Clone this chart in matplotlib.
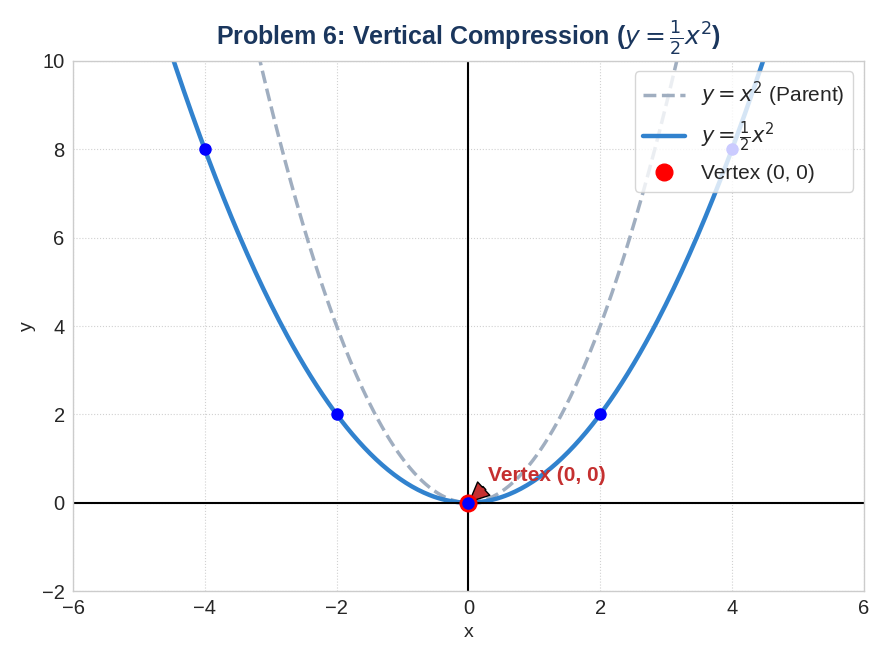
import matplotlib.pyplot as plt
import numpy as np

plt.style.use('seaborn-v0_8-whitegrid')
plt.rcParams['font.family'] = ['Liberation Sans', 'DejaVu Sans']

# data
sample_x = [-4, -2, 0, 2, 4]
sample_y = [8, 2, 0, 2, 8]
vertex = (0, 0)

x = np.linspace(-6, 6, 400)
y_parent = x ** 2
y_comp = 0.5 * x ** 2

fig, ax = plt.subplots(figsize=(8.85, 6.6), dpi=100)
fig.subplots_adjust(left=0.0825, right=0.976, top=0.9076, bottom=0.1045)

ax.plot(x, y_parent, '--', color='#a0aec0', linewidth=2.5, label=r'$y = x^2$ (Parent)')
ax.plot(x, y_comp, color='#3182ce', linewidth=3.2, label=r'$y = \frac{1}{2}x^2$')
ax.plot(vertex[0], vertex[1], 'o', color='red', markersize=12, label='Vertex (0, 0)', zorder=4)
ax.plot(sample_x, sample_y, 'o', color='blue', markersize=8, zorder=4.5)

ax.axhline(0, color='black', linewidth=1.5)
ax.axvline(0, color='black', linewidth=1.5)

ax.annotate('Vertex (0, 0)', xy=vertex, xytext=(0.3, 0.5),
            fontsize=15, fontweight='bold', color='#c53030',
            arrowprops=dict(facecolor='#c53030', edgecolor='black', shrink=0.05,
                            width=3, headwidth=13, headlength=14))

ax.set_xlim(-6, 6)
ax.set_ylim(-2, 10)
ax.set_xlabel('x', fontsize=14)
ax.set_ylabel('y', fontsize=14)
ax.tick_params(labelsize=14.5, pad=6)
ax.grid(True, linestyle=':', color='#cccccc', alpha=0.9)
for s in ax.spines.values():
    s.set_color('#cccccc')
    s.set_visible(True)

ax.set_title(r'Problem 6: Vertical Compression ($y = \frac{1}{2}x^2$)',
             fontsize=18, fontweight='bold', color='#1a365d', pad=12)
ax.legend(loc='upper right', fontsize=15, frameon=True, framealpha=0.8)

plt.savefig('out.png')
